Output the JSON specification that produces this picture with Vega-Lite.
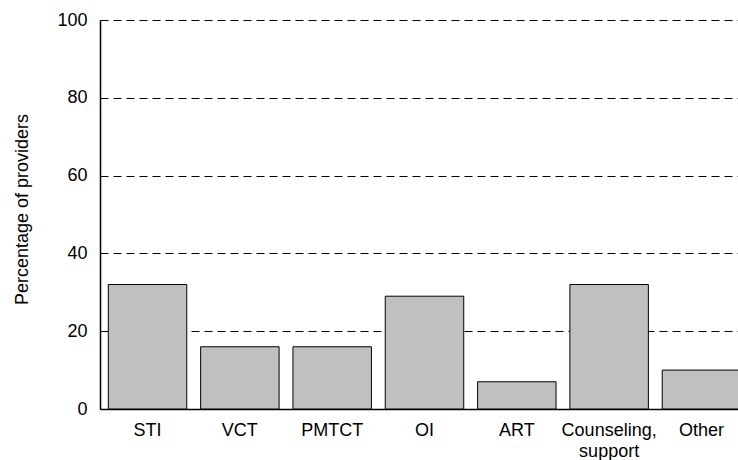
{
  "$schema": "https://vega.github.io/schema/vega-lite/v6.json",
  "width": 649,
  "height": 389,
  "autosize": {"type": "none"},
  "padding": {"left": 100, "top": 20, "right": 0, "bottom": 51},
  "background": "white",
  "data": {"values": [
    {"service": "STI", "pct": 32},
    {"service": "VCT", "pct": 16},
    {"service": "PMTCT", "pct": 16},
    {"service": "OI", "pct": 29},
    {"service": "ART", "pct": 7},
    {"service": "Counseling, support", "pct": 32},
    {"service": "Other", "pct": 10}
  ]},
  "config": {
    "view": {"stroke": null},
    "font": "Liberation Sans",
    "axis": {"labelFont": "Liberation Sans", "titleFont": "Liberation Sans"}
  },
  "mark": {"type": "bar", "fill": "#c0c0c0", "stroke": "black", "strokeWidth": 1},
  "encoding": {
    "x": {
      "field": "service", "type": "nominal", "sort": null,
      "scale": {"paddingInner": 0.15, "paddingOuter": 0.09},
      "axis": {
        "title": null, "labelAngle": 0, "ticks": false, "labelFontSize": 18,
        "labelColor": "black", "labelPadding": 12, "labelLineHeight": 21,
        "domainColor": "black", "domainWidth": 1.5,
        "labelExpr": "datum.label == 'Counseling, support' ? ['Counseling,', 'support'] : datum.label"
      }
    },
    "y": {
      "field": "pct", "type": "quantitative",
      "scale": {"domain": [0, 100], "nice": false},
      "axis": {
        "title": "Percentage of providers", "titleFontSize": 18, "titleFontWeight": "normal",
        "titleColor": "black", "titlePadding": 25, "titleY": 189,
        "values": [0, 20, 40, 60, 80, 100], "ticks": false, "labelFontSize": 18,
        "labelColor": "black", "labelPadding": 13,
        "domainColor": "black", "domainWidth": 1.5,
        "grid": true, "gridColor": "black", "gridDash": [8, 5], "gridWidth": 1, "gridOpacity": 1
      }
    }
  }
}
